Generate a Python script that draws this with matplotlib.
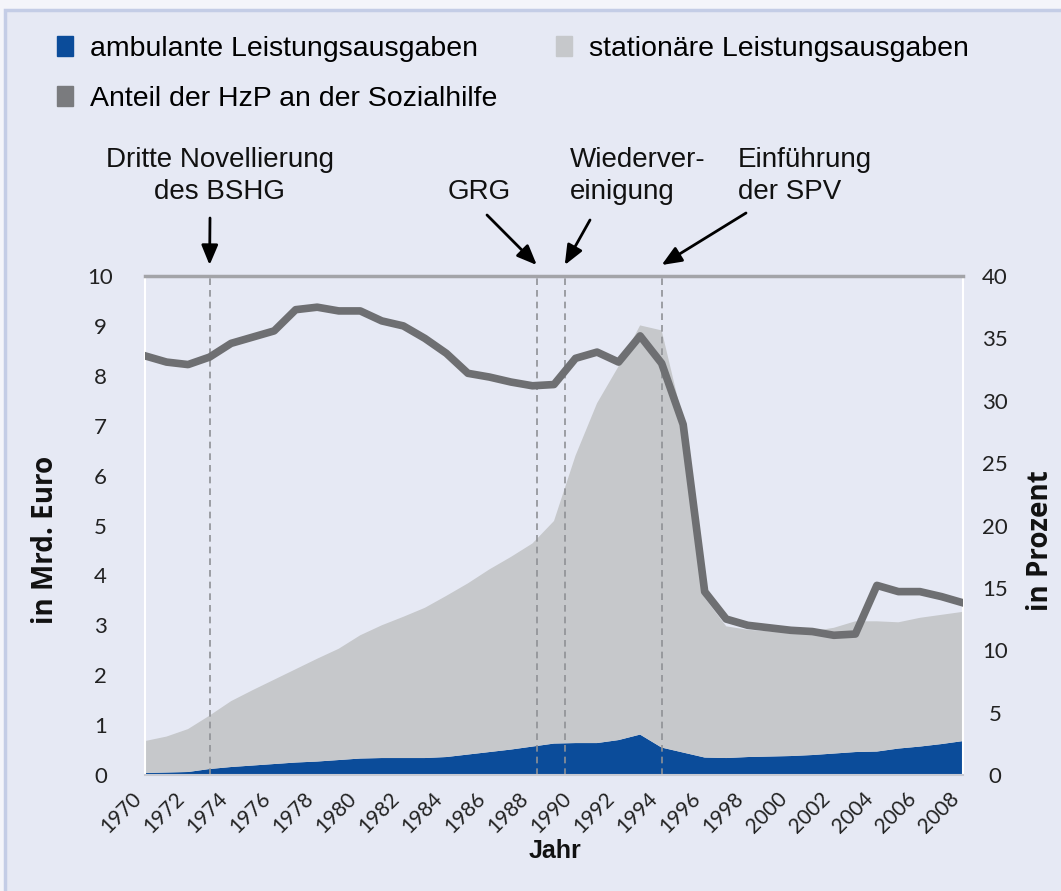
import matplotlib.pyplot as plt
from matplotlib.patches import Rectangle, Patch

# Daten
jahre = list(range(1970, 2009))
ambulant = [0.04, 0.05, 0.06, 0.12, 0.16, 0.19, 0.22, 0.25, 0.27, 0.30,
            0.33, 0.34, 0.34, 0.34, 0.36, 0.41, 0.46, 0.51, 0.57, 0.63,
            0.64, 0.64, 0.70, 0.81, 0.55, 0.45, 0.35, 0.34, 0.36, 0.37,
            0.38, 0.40, 0.43, 0.46, 0.47, 0.53, 0.57, 0.62, 0.68]
stationaer = [0.64, 0.72, 0.86, 1.07, 1.32, 1.51, 1.69, 1.87, 2.06, 2.23,
              2.47, 2.66, 2.83, 3.01, 3.23, 3.43, 3.66, 3.86, 4.07, 4.46,
              5.76, 6.81, 7.49, 8.20, 8.36, 6.65, 3.20, 2.64, 2.55, 2.51,
              2.50, 2.48, 2.52, 2.62, 2.61, 2.53, 2.58, 2.59, 2.59]
anteil = [33.6, 33.1, 32.9, 33.5, 34.6, 35.1, 35.6, 37.3, 37.5, 37.2,
          37.2, 36.4, 36.0, 35.0, 33.8, 32.2, 31.9, 31.5, 31.2, 31.3,
          33.4, 33.9, 33.1, 35.2, 33.0, 28.1, 14.7, 12.5, 12.0, 11.8,
          11.6, 11.5, 11.2, 11.3, 15.2, 14.7, 14.7, 14.3, 13.8]

ereignis_jahre = [1973.0, 1988.2, 1989.5, 1994.0]
ereignis_texte = ["Dritte Novellierung\ndes BSHG", "GRG", "Wiederver-\neinigung", "Einführung\nder SPV"]

blau = '#0B4C9A'
hellgrau = '#C6C8CB'
dunkelgrau = '#6E6F72'
bg = '#E6E9F4'

W, H = 1061, 891
plt.rcParams['font.family'] = ['Liberation Sans', 'DejaVu Sans']

fig = plt.figure(figsize=(W / 100, H / 100), dpi=100)
fig.patch.set_facecolor('#F4F5FA')
fig.patches.append(Rectangle((5 / W, -0.01), 1, 1 - 10 / H + 0.01, transform=fig.transFigure,
                             facecolor=bg, edgecolor='#C4CDE6', lw=2.5, zorder=-10))

ax = fig.add_axes([145 / W, 1 - 775 / H, (963 - 145) / W, (775 - 276) / H])
ax.set_facecolor(bg)
ax.stackplot(jahre, ambulant, stationaer, colors=[blau, hellgrau], lw=0, zorder=1)
for j in ereignis_jahre:
    ax.axvline(j, color='#8F9196', ls=(0, (4, 3)), lw=1.2, zorder=2)
ax.set_xlim(1970, 2008)
ax.set_ylim(0, 10)
ax.set_yticks(range(0, 11))
ax.set_xticks(range(1970, 2009, 2))
ax.set_xticklabels([str(j) for j in range(1970, 2009, 2)], rotation=45, ha='right', va='top',
                   family='Lato', fontsize=15, color='#222222')
ax.tick_params(axis='x', length=0, pad=10)
ax.tick_params(axis='y', length=0, pad=32, labelsize=16, labelcolor='#222222')
for lbl in ax.get_yticklabels():
    lbl.set_ha('center')
    lbl.set_family('Lato')

ax.spines['top'].set_color('#A3A4A8')
ax.spines['top'].set_linewidth(2.5)
ax.spines['left'].set_color('white')
ax.spines['left'].set_linewidth(1.5)
ax.spines['right'].set_color('white')
ax.spines['right'].set_linewidth(1.5)
ax.spines['bottom'].set_color('#C8CAD2')
ax.spines['bottom'].set_linewidth(1.5)

ax2 = ax.twinx()
ax2.plot(jahre, anteil, color=dunkelgrau, lw=5.5, zorder=3)
ax2.set_ylim(0, 40)
ax2.set_yticks(range(0, 41, 5))
ax2.tick_params(axis='y', length=0, pad=23, labelsize=16, labelcolor='#222222')
for lbl in ax2.get_yticklabels():
    lbl.set_ha('center')
    lbl.set_family('Lato')
for s in ax2.spines.values():
    s.set_visible(False)

# Achsentitel
fig.text(46 / W, 1 - 540 / H, 'in Mrd. Euro', rotation=90, ha='center', va='center',
         family='Open Sans', fontweight='bold', fontsize=20, color='#111111')
fig.text(1041 / W, 1 - 541 / H, 'in Prozent', rotation=90, ha='center', va='center',
         family='Open Sans', fontweight='bold', fontsize=20, color='#111111')
fig.text(555 / W, 1 - 851 / H, 'Jahr', ha='center', va='center',
         fontweight='bold', fontsize=18, color='#111111')

# Ereignisse
text_pos = [(220, 176, 'center', 'center'), (479, 192, 'center', 'center'),
            (570, 176, 'left', 'left'), (738, 176, 'left', 'left')]
pfeil_start = [(210, 218), (487, 215), (590, 220), (746, 213)]
for j, t, (tx, ty, ha, ma), (sx, sy) in zip(ereignis_jahre, ereignis_texte, text_pos, pfeil_start):
    fig.text(tx / W, 1 - ty / H, t, ha=ha, va='center', multialignment=ma,
             fontsize=20, color='#111111', linespacing=1.28)
    ax.annotate('', xy=(j, 10.22), xycoords='data', xytext=(sx / W, 1 - sy / H),
                textcoords='figure fraction', annotation_clip=False,
                arrowprops=dict(arrowstyle='-|>,head_length=0.6,head_width=0.25',
                                mutation_scale=20, color='black', lw=2, shrinkA=0, shrinkB=0))

# Legende
handles = [Patch(color=blau), Patch(color='#7A7B7E'), Patch(color=hellgrau)]
labels = ['ambulante Leistungsausgaben', 'Anteil der HzP an der Sozialhilfe',
          'stationäre Leistungsausgaben']
fig.legend(handles, labels, loc='upper left', bbox_to_anchor=(57 / W, 1 - 36 / H),
           ncol=2, frameon=False, fontsize=20.5, borderpad=0, borderaxespad=0,
           handlelength=0.55, handleheight=0.7, handletextpad=0.6,
           columnspacing=2.08, labelspacing=0.85)

fig.savefig('out.png', dpi=100, facecolor=fig.get_facecolor())
